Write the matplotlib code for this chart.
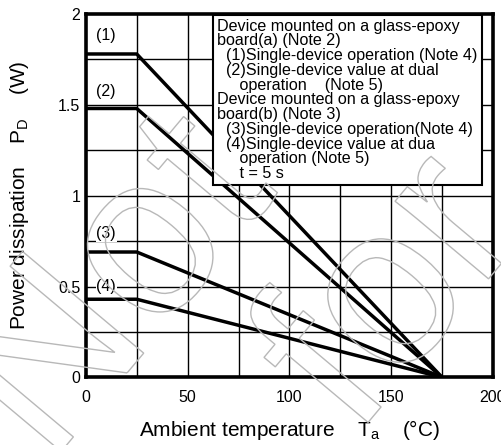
import matplotlib
matplotlib.use("Agg")
import matplotlib.pyplot as plt
from matplotlib.textpath import TextPath
from matplotlib.patches import PathPatch
from matplotlib.font_manager import FontProperties
from matplotlib.transforms import Affine2D

plt.rcParams['font.family'] = ['Liberation Sans', 'DejaVu Sans']

# derating curves: flat up to 25 degC, then linear down to 0 W at 175 degC
temps = [0, 25, 175]
labels = ["(1)", "(2)", "(3)", "(4)"]
pd_max = [1.78, 1.48, 0.69, 0.43]
label_pos = [(10, 1.88), (10, 1.575), (10, 0.79), (10, 0.50)]

x_ticks = [0, 50, 100, 150, 200]
y_ticks = [0, 0.5, 1, 1.5, 2]

note_lines = [
    "Device mounted on a glass-epoxy",
    "board(a) (Note 2)",
    "  (1)Single-device operation (Note 4)",
    "  (2)Single-device value at dual",
    "     operation    (Note 5)",
    "Device mounted on a glass-epoxy",
    "board(b) (Note 3)",
    "  (3)Single-device operation(Note 4)",
    "  (4)Single-device value at dua",
    "     operation (Note 5)",
    "     t = 5 s",
]

fig = plt.figure(figsize=(5.02, 4.45), dpi=100)
ax = fig.add_axes([0.171, 0.152, 0.811, 0.8165])

# grid
for gx in range(25, 200, 25):
    ax.axvline(gx, color="black", lw=1.0, zorder=1)
for gy in [0.25, 0.5, 0.75, 1.0, 1.25, 1.5, 1.75]:
    ax.axhline(gy, color="black", lw=1.0, zorder=1)

for p in pd_max:
    ax.plot(temps, [p, p, 0], color="black", lw=2.5, zorder=3,
            solid_capstyle="butt")

for lab, (lx, ly) in zip(labels, label_pos):
    ax.text(lx, ly, lab, ha="center", va="center", fontsize=11.5, zorder=4,
            bbox=dict(facecolor="white", edgecolor="none", pad=0.5))

ax.set_xlim(0, 200)
ax.set_ylim(0, 2)
ax.set_xticks(x_ticks)
ax.set_xticklabels(["0", "50", "100", "150", "200"])
ax.set_yticks(y_ticks)
ax.set_yticklabels(["0", "0.5", "1", "1.5", "2"])
ax.tick_params(length=0, labelsize=11.5)
ax.tick_params(axis="x", pad=9)
ax.tick_params(axis="y", pad=4)
for s in ax.spines.values():
    s.set_linewidth(2.6)
    s.set_zorder(5)

ax.set_xlabel("Ambient temperature    T$_\\mathregular{a}$    (°C)", fontsize=15)
ax.set_ylabel("Power dissipation    P$_\\mathregular{D}$    (W)", fontsize=15)
ax.xaxis.set_label_coords(0.5, -0.112)
ax.yaxis.set_label_coords(-0.135, 0.5)

# note box
ax.text(64.5, 1.975, "\n".join(note_lines), ha="left", va="top", fontsize=11.6,
        linespacing=0.98, zorder=6,
        bbox=dict(facecolor="white", edgecolor="black", lw=1.5,
                  boxstyle="square,pad=0.25"))

# outlined watermark
fp = FontProperties(family="Liberation Sans")
for word, px, py in [("Not", 49, -21), ("for", 355, 7)]:
    tp = TextPath((0, 0), word, size=230, prop=fp)
    tr = Affine2D().rotate_deg(50).translate(px, py)
    fig.add_artist(PathPatch(tp, transform=tr, facecolor="none",
                             edgecolor="#b8b8b8", lw=1.0, zorder=10))

fig.savefig("out.png", dpi=100)
